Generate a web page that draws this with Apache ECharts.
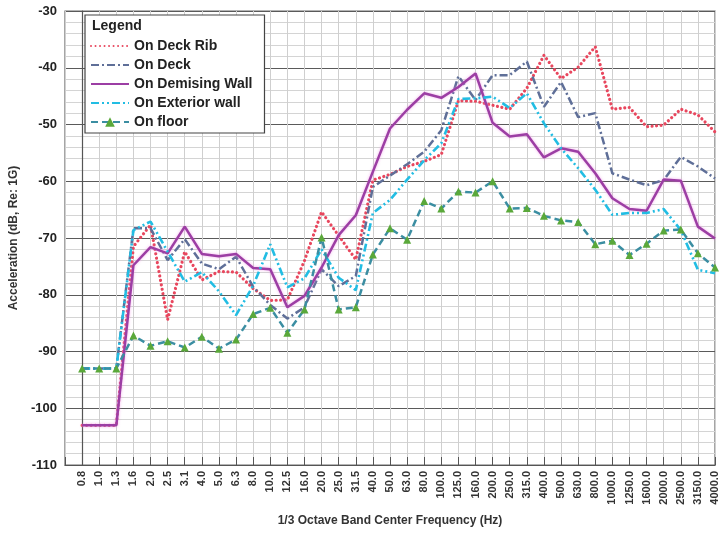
<!DOCTYPE html>
<html>
<head>
<meta charset="utf-8">
<script src="https://cdn.jsdelivr.net/npm/echarts@6/dist/echarts.min.js"></script>
<style>
  html, body { margin: 0; padding: 0; background: #fff; }
  #chart { width: 722px; height: 533px; }
</style>
</head>
<body>
<div id="chart"></div>
<script>
// ========== 数据 ==========
const bands = ['0.8', '1.0', '1.3', '1.6', '2.0', '2.5', '3.1', '4.0', '5.0', '6.3', '8.0', '10.0', '12.5', '16.0',
  '20.0', '25.0', '31.5', '40.0', '50.0', '63.0', '80.0', '100.0', '125.0', '160.0', '200.0', '250.0', '315.0',
  '400.0', '500.0', '630.0', '800.0', '1000.0', '1250.0', '1600.0', '2000.0', '2500.0', '3150.0', '4000.0'];

const deckRib = [-103, -103, -103, -71.5, -67.7, -84.4, -72.4, -77.4, -75.9, -76, -78.9, -81, -80.9, -74,
  -65.4, -69.6, -73.8, -59.8, -58.8, -57.4, -56.5, -55.3, -45.8, -45.9, -46.6, -47.3, -43.6,
  -37.8, -41.9, -39.9, -36.3, -47.3, -47, -50.4, -50.1, -47.3, -48.3, -51.3];

const deck = [-93, -93, -93, -68.3, -68.3, -73.9, -70.2, -74.5, -75.5, -73.3, -78.6, -81.8, -84.2, -82.2,
  -75.5, -78.5, -76.7, -61, -59, -57, -54.8, -51, -41.5, -45.7, -41.3, -41.3, -38.9,
  -46.9, -42.5, -48.7, -48, -58.6, -59.7, -60.7, -59.8, -55.7, -57.4, -59.5];

const demisingWall = [-103, -103, -103, -74.8, -71.6, -72.7, -68, -72.8, -73.2, -72.8, -75.3, -75.5, -82.2, -80.2,
  -75.2, -69.5, -66, -58.3, -50.7, -47.4, -44.5, -45.3, -43.4, -41, -49.7, -52.1, -51.7,
  -55.8, -54.2, -54.8, -58.6, -63, -64.9, -65.2, -59.7, -59.9, -68, -70.1];

const exteriorWall = [-93, -93, -93, -68.6, -67.1, -72.4, -77.7, -76, -79.4, -83.6, -78.4, -71.1, -78.7, -77.1,
  -72, -77, -79.2, -65.6, -63.3, -59.7, -56.3, -53.3, -45.5, -45.4, -45.1, -47.1, -44.5,
  -49.8, -54.2, -57.7, -61.5, -65.9, -65.6, -65.6, -64.9, -68.6, -75.6, -76.2];

const onFloor = [-93, -93, -93, -87.2, -89, -88.2, -89.3, -87.4, -89.5, -87.9, -83.4, -82.3, -86.7, -82.6,
  -69.9, -82.6, -82.2, -72.9, -68.3, -70.3, -63.5, -64.8, -61.8, -62, -60, -64.8, -64.7,
  -66.1, -66.9, -67.2, -71.1, -70.5, -73, -71, -68.7, -68.5, -72.7, -75.2];

const yTicks = { min: -110, max: -30, step: 10 };

// ========== 样式 ==========
const FONT = '"Liberation Sans", Arial, sans-serif';
const toPts = arr => arr.map((v, i) => [i, v]);

const lineSeries = (name, data, color, type, cap, width, extra = {}) => ({
  name,
  type: 'line',
  data: toPts(data),
  symbol: 'none',
  lineStyle: { color, width, type, cap },
  itemStyle: { color },
  z: 3,
  ...extra
});

// 图例里只画线，不画圆点（地板那条保留三角形）
const noMark = name => ({ name, itemStyle: { opacity: 0 } });

const chart = echarts.init(document.getElementById('chart'));

chart.setOption({
  animation: false,
  textStyle: { fontFamily: FONT },
  grid: {
    left: 65, right: 7, top: 11, bottom: 68,
    show: true, borderColor: '#6a6a6a', borderWidth: 1.2
  },
  graphic: [{
    type: 'text',
    left: 92, top: 19,
    style: { text: 'Legend', font: 'bold 14px ' + FONT, fill: '#222' },
    z: 100
  }],
  legend: {
    orient: 'vertical',
    left: 85, top: 15,
    padding: [24, 12, 4, 5],
    backgroundColor: '#fff',
    borderColor: '#444',
    borderWidth: 1.2,
    itemWidth: 38, itemHeight: 12, itemGap: 5,
    textStyle: { fontSize: 14, fontWeight: 'bold', color: '#222', fontFamily: FONT },
    data: [noMark('On Deck Rib'), noMark('On Deck'), noMark('On Demising Wall'), noMark('On Exterior wall'), 'On floor']
  },
  xAxis: {
    type: 'value',
    min: -1, max: bands.length - 1, interval: 1,
    name: '1/3 Octave Band Center Frequency (Hz)',
    nameLocation: 'middle', nameGap: 50,
    nameTextStyle: { fontSize: 12, fontWeight: 'bold', color: '#333', fontFamily: FONT },
    axisLine: { show: true, lineStyle: { color: '#555', width: 1.2 } },
    axisTick: { show: true, inside: true, length: 8, lineStyle: { color: '#555' } },
    axisLabel: {
      rotate: 90, margin: 6,
      fontSize: 11, fontWeight: 'bold', color: '#333', fontFamily: FONT,
      formatter: v => (v >= 0 ? bands[v] : '')
    },
    splitLine: { show: true, lineStyle: { color: '#cfcfcf', width: 1 } }
  },
  yAxis: {
    type: 'value',
    min: yTicks.min, max: yTicks.max, interval: yTicks.step,
    name: 'Acceleration (dB, Re: 1G)',
    nameLocation: 'middle', nameGap: 40,
    nameTextStyle: { fontSize: 12, fontWeight: 'bold', color: '#333', fontFamily: FONT },
    axisLine: { show: true, lineStyle: { color: '#555', width: 1.2 } },
    axisTick: { show: false },
    axisLabel: { margin: 8, fontSize: 13, fontWeight: 'bold', color: '#222', fontFamily: FONT },
    splitLine: { show: true, lineStyle: { color: '#5a5a5a', width: 1.2 } },
    minorTick: { show: false, splitNumber: 5 },
    minorSplitLine: { show: true, lineStyle: { color: '#d4d4d4', width: 1 } }
  },
  series: [
    lineSeries('On Deck Rib', deckRib, '#e8475e', [0.01, 4.5], 'round', 3.2),
    lineSeries('On Deck', deck, '#5f6f98', [8, 3, 2, 3], 'butt', 2.5),
    lineSeries('On Demising Wall', demisingWall, '#9c3ea4', 'solid', 'butt', 2.5, {
      lineStyle: { color: '#9c3ea4', width: 2.5, shadowColor: 'rgba(240,140,230,0.7)', shadowBlur: 3 }
    }),
    lineSeries('On Exterior wall', exteriorWall, '#22bde3', [8, 3, 2, 3, 2, 3], 'butt', 2.6),
    lineSeries('On floor', onFloor, '#3b8ea2', [7, 4], 'butt', 2.5, {
      symbol: 'triangle', symbolSize: 8, showSymbol: true,
      itemStyle: { color: '#5aa83a' }
    })
  ]
});
</script>
</body>
</html>
